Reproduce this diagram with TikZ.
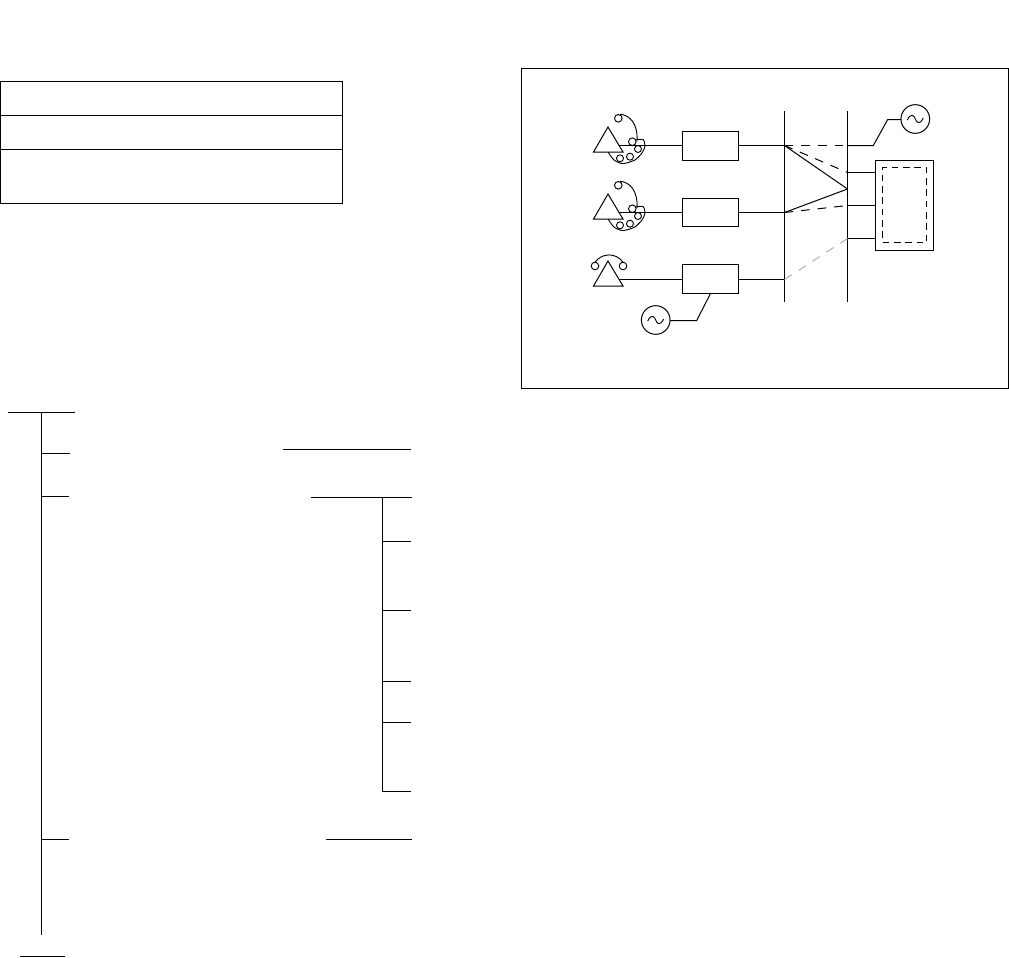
\documentclass[tikz,border=0pt]{standalone}
\usepackage{tikz}
\usetikzlibrary{arrows.meta,positioning,calc}
\definecolor{grisclair}{RGB}{175,175,175}
\tikzset{
	trait/.style={line width=0.75pt},
	fil/.style={line width=0.7pt},
	repeteur/.style={draw,trait,minimum width=42pt,minimum height=21.75pt,inner sep=0pt,outer sep=0pt},
	gene/.style={draw,trait,circle,minimum size=21.5pt,inner sep=0pt,outer sep=0pt},
	cadre/.style={draw,trait,inner sep=0pt,outer sep=0pt},
	tireta/.style={trait,dash pattern=on 6.5pt off 6pt},
	tiretb/.style={trait,dash pattern=on 5pt off 3.5pt},
	combine/.pic={
		\draw[trait] (0,0)--(-14.5,25)--(15,25)--cycle;
		\coordinate (-out) at (10.5,18.5);
	},
	bobine/.pic={
		\draw[fil] (10.3,-8.7) circle[radius=3.8];
		\draw[fil] (24.3,14.7) circle[radius=3.8];
		\draw[fil] (30,22) circle[radius=3.5];
		\draw[fil] (22,29.7) circle[radius=3.5];
		\draw[fil] (12,31.3) circle[radius=3.5];
		\draw[fil] (12,-12.7) .. controls (22,-12) and (30,-3) .. (29,14);
		\draw[fil] plot[smooth] coordinates {(28,13) (35,12.5) (37,19) (34,26) (27,33) (22,35) (14,36.5) (6,33) (0,25)};
	},
	poste/.pic={
		\draw[fil] (-13,5) circle[radius=3.8];
		\draw[fil] (15,5) circle[radius=3.8];
		\draw[fil] (-13,1.2) .. controls (-6,-8.5) and (8,-8.5) .. (15,1.2);
	}
}
\begin{document}
\begin{tikzpicture}[x=0.75pt,y=-0.75pt]
	\useasboundingbox (0,0) rectangle (1009,957);
	% tableau
	\draw[trait] (0.5,81.5) rectangle (342.5,203.5);
	\draw[trait] (0.5,115.5)--(342.5,115.5);
	\draw[trait] (0.5,149.5)--(342.5,149.5);
	% arborescence
	\draw[trait] (8,412.5)--(75,412.5);
	\draw[trait] (41.5,412.5)--(41.5,935);
	\foreach \y/\fin in {453.5/70,496.5/69,839.5/69}
		\draw[trait] (41.5,\y)--(\fin,\y);
	\draw[trait] (20,956.5)--(65,956.5);
	\draw[trait] (283,449.5)--(411,449.5);
	\draw[trait] (311,497.5)--(412,497.5);
	\draw[trait] (326,839.5)--(412,839.5);
	\draw[trait] (382.5,497.5)--(382.5,791.5);
	\foreach \y in {541.5,610.5,681.5,722.5,791.5}
		\draw[trait] (382.5,\y)--(411,\y);
	% schema
	\draw[trait] (521.5,68.5) rectangle (1008.5,388.5);
	\pic (tel1) at (608,127) {combine};
	\pic at (608,127) {bobine};
	\pic (tel2) at (608,194) {combine};
	\pic at (608,194) {bobine};
	\pic (tel3) at (608,261) {combine};
	\pic at (608,261) {poste};
	\node[repeteur] (rep1) at (710.5,146) {};
	\node[repeteur,minimum height=21pt] (rep2) at (710.5,212.5) {};
	\node[repeteur] (rep3) at (710.5,279) {};
	\node[gene] (gen1) at (915.3,119) {};
	\node[gene] (gen2) at (655.7,320) {};
	\foreach \g in {gen1,gen2}
		\draw[fil] ($(\g)+(-8,1)$) .. controls ($(\g)+(-4,-7)$) and ($(\g)+(-1,-3)$) .. (\g.center) .. controls ($(\g)+(1,3)$) and ($(\g)+(4,7)$) .. ($(\g)+(8,-1)$);
	\node[cadre,minimum width=43.5pt,minimum height=67.5pt] (rack) at (904.5,205.5) {};
	\node[draw,tiretb,inner sep=0pt,outer sep=0pt,minimum width=33pt,minimum height=56.25pt] (carte) at (904.5,205) {};
	% barres
	\coordinate (a1) at (784.5,111);
	\coordinate (a2) at (784.5,301.5);
	\coordinate (b1) at (847.5,111);
	\coordinate (b2) at (847.5,301.5);
	\draw[trait] (a1)--(a2);
	\draw[trait] (b1)--(b2);
	\coordinate (e1) at (784.5,145.5);
	\coordinate (e2) at (784.5,212.5);
	\coordinate (e3) at (784.5,279.5);
	\coordinate (s0) at (847.5,145.5);
	\coordinate (s1) at (847.5,172.5);
	\coordinate (sm) at (847.5,189);
	\coordinate (s2) at (847.5,205.5);
	\coordinate (s3) at (847.5,238.5);
	\coordinate (coude1) at (887.7,119.5);
	\coordinate (coude2) at (696.7,320.5);
	\coordinate (sortie) at (873.3,145.5);
	% liaisons
	\foreach \n in {1,2,3}{
		\draw[trait] (tel\n-out)--(rep\n.west |- tel\n-out);
		\draw[trait] (rep\n.east |- e\n)--(e\n);
	}
	\draw[trait] (e1)--(sm);
	\draw[trait] (e2)--(sm);
	\draw[tireta] (e1)--(s0);
	\draw[tireta] (e1)--(s1);
	\draw[tireta] (e2)--(s2);
	\draw[tireta,grisclair] (e3)--(s3);
	\draw[trait] (s0)--(sortie)--(coude1)--(gen1.west |- coude1);
	\draw[trait] (gen2.east |- coude2)--(coude2)--(rep3.south);
	\draw[trait] (s1)--(rack.west |- s1);
	\draw[trait] (s2)--(rack.west |- s2);
	\draw[trait] (s3)--(rack.west |- s3);
\end{tikzpicture}
\end{document}
